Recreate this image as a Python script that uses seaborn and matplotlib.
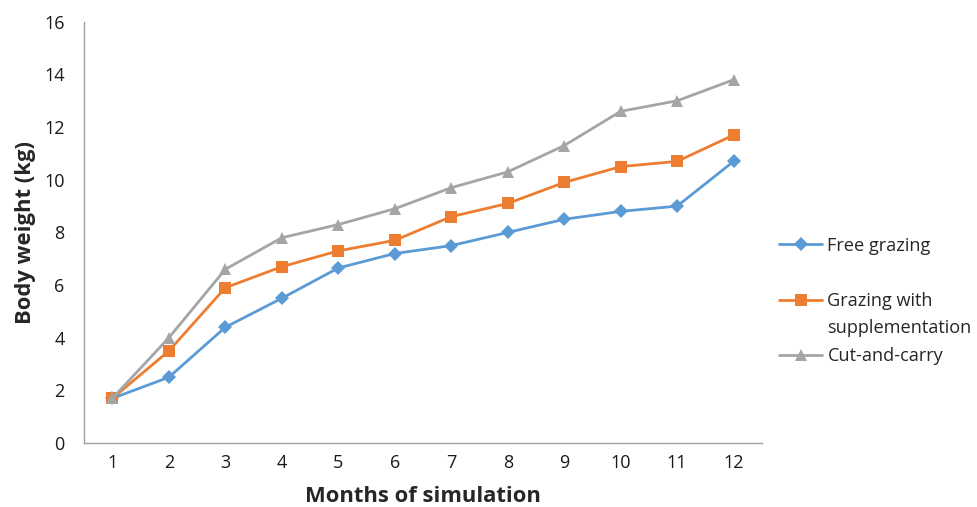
import pandas as pd
import matplotlib.pyplot as plt
import seaborn as sns

months = list(range(1, 13))
free_grazing = [1.7, 2.5, 4.4, 5.5, 6.65, 7.2, 7.5, 8.0, 8.5, 8.8, 9.0, 10.7]
grazing_supp = [1.7, 3.5, 5.9, 6.7, 7.3, 7.7, 8.6, 9.1, 9.9, 10.5, 10.7, 11.7]
cut_and_carry = [1.7, 4.0, 6.6, 7.8, 8.3, 8.9, 9.7, 10.3, 11.3, 12.6, 13.0, 13.8]
series_names = ["Free grazing", "Grazing with supplementation", "Cut-and-carry"]
y_ticks = [0, 2, 4, 6, 8, 10, 12, 14, 16]

df = pd.DataFrame({
    "month": months * 3,
    "weight": free_grazing + grazing_supp + cut_and_carry,
    "series": [series_names[0]] * 12 + [series_names[1]] * 12 + [series_names[2]] * 12,
})

sns.set_style("white")
plt.rcParams["font.family"] = ["Open Sans", "DejaVu Sans"]

fig = plt.figure(figsize=(9.78, 5.07), dpi=100)
ax = fig.add_axes([0.086, 0.126, 0.693, 0.831])

palette = {series_names[0]: "#5B9BD5", series_names[1]: "#ED7D31", series_names[2]: "#A5A5A5"}
markers = {series_names[0]: "D", series_names[1]: "s", series_names[2]: "^"}
sizes = {series_names[0]: 7, series_names[1]: 9, series_names[2]: 9}

sns.lineplot(data=df, x="month", y="weight", hue="series", style="series",
             palette=palette, markers=markers, dashes=False, linewidth=2,
             markeredgewidth=0, ax=ax, legend=False)
for line, name in zip(ax.get_lines(), series_names):
    line.set_markersize(sizes[name])

ax.set_xlim(0.5, 12.5)
ax.set_ylim(0, 16)
ax.set_xticks(months)
ax.set_yticks(y_ticks)
ax.tick_params(axis="both", length=0, labelsize=13, colors="#1a1a1a")
ax.tick_params(axis="y", pad=14)
ax.tick_params(axis="x", pad=8)
ax.set_xlabel("Months of simulation", fontsize=15.8, fontweight="bold", labelpad=10)
ax.set_ylabel("Body weight (kg)", fontsize=15.8, fontweight="bold", labelpad=6)

for s in ["top", "right"]:
    ax.spines[s].set_visible(False)
for s in ["left", "bottom"]:
    ax.spines[s].set_color("#A0A0A0")
    ax.spines[s].set_linewidth(1)

# legend: single-line labels, the second line of the middle entry added below it
handles = ax.get_lines()[:3]
leg_labels = ["Free grazing", "Grazing with", "Cut-and-carry"]
leg = fig.legend(handles, leg_labels, loc="center left", bbox_to_anchor=(0.78, 0.406),
                 frameon=False, fontsize=13.1, handlelength=2.35, handletextpad=0.3,
                 labelspacing=2.05)
fig.canvas.draw()
bb = leg.get_texts()[1].get_window_extent().transformed(fig.transFigure.inverted())
fig.text(bb.x0, bb.y0 - 27 / 507, "supplementation", fontsize=13.1, va="bottom", ha="left")

fig.savefig("out.png", dpi=100)
